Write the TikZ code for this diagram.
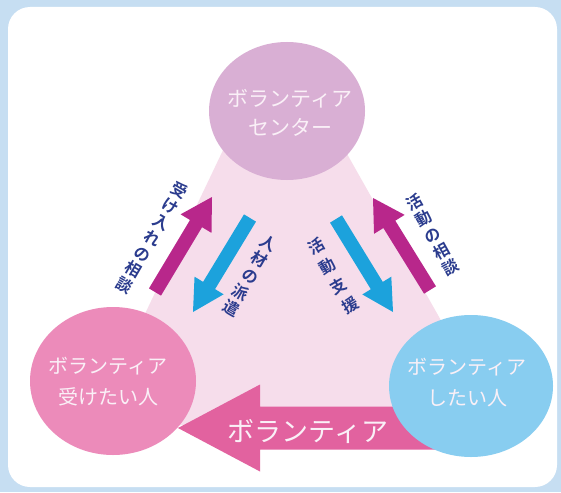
\documentclass[tikz,border=0pt]{standalone}
\usepackage{fontspec}
\setmainfont{Noto Sans CJK JP}[BoldFont={Noto Sans CJK JP Bold}]
\usetikzlibrary{calc}
\definecolor{bgblue}{HTML}{C6DEF2}
\definecolor{tripink}{HTML}{F6DDEB}
\definecolor{topcirc}{HTML}{D9AFD4}
\definecolor{leftcirc}{HTML}{EC8BBA}
\definecolor{rightcirc}{HTML}{88CDF0}
\definecolor{bigarrow}{HTML}{E2629F}
\definecolor{magarrow}{HTML}{B8278B}
\definecolor{bluearrow}{HTML}{1CA2DC}
\definecolor{labelnavy}{HTML}{2B3C8E}
\definecolor{circtext}{HTML}{FAF0F7}
% #1 style, #2 tail, #3 tip, #4 shaft half width, #5 head length, #6 head half width
\newcommand\fatarw[6]{%
  \coordinate (#2#3b) at ($(#3)!#5!(#2)$);
  \fill[#1] ($(#2)!#4!90:(#3)$) -- ($(#2#3b)!#4!90:(#3)$) -- ($(#2#3b)!#6!90:(#3)$) -- (#3)
    -- ($(#2#3b)!#6!-90:(#3)$) -- ($(#2#3b)!#4!-90:(#3)$) -- ($(#2)!#4!-90:(#3)$) -- cycle;}
\begin{document}
\begin{tikzpicture}[x=1pt,y=-1pt,
  circtxt/.style={text=circtext, align=center},
  lbl/.style={text=labelnavy, align=center, inner sep=0pt}]
\useasboundingbox (0,0) rectangle (561,492);
\fill[bgblue] (0,0) rectangle (561,492);
\fill[white, rounded corners=22pt] (8,7) rectangle (557,487);
% pink triangle
\fill[tripink] (266,60) -- (294,60) -- (500,425) -- (92,425) -- cycle;
% big arrow
\coordinate (bigtail) at (445,428);
\coordinate (bigtip) at (178,428);
\fatarw{bigarrow}{bigtail}{bigtip}{21.5pt}{82pt}{43.5pt}
\node[text=circtext, font=\fontsize{27}{30}\selectfont] (bigtxt) at (308,431) {ボランティア};
% circles
\fill[topcirc] (287,111) ellipse [x radius=78, y radius=69];
\fill[leftcirc] (113,381) ellipse [x radius=83, y radius=74];
\fill[rightcirc] (471,386) ellipse [x radius=82, y radius=71];
\node[circtxt, font=\fontsize{21}{29}\selectfont] (center) at (290,113) {ボランティア\\センター};
\node[circtxt, font=\fontsize{20}{31}\selectfont] (receiver) at (108,382) {ボランティア\\受けたい人};
\node[circtxt, font=\fontsize{20}{31}\selectfont] (volunteer) at (467,383) {ボランティア\\したい人};
% small arrows
\coordinate (lmt) at (155,292); \coordinate (lmp) at (212,197);
\coordinate (lbt) at (250,218); \coordinate (lbp) at (193,312);
\coordinate (rbt) at (336,219); \coordinate (rbp) at (393,312);
\coordinate (rmt) at (430,290); \coordinate (rmp) at (373,198);
\fatarw{magarrow}{lmt}{lmp}{7pt}{31pt}{18pt}
\fatarw{bluearrow}{lbt}{lbp}{7pt}{31pt}{17pt}
\fatarw{bluearrow}{rbt}{rbp}{7pt}{31pt}{17pt}
\fatarw{magarrow}{rmt}{rmp}{7pt}{31pt}{18pt}
% labels
\node[lbl, rotate=-30, font=\bfseries\fontsize{16}{18.3}\selectfont] (l1) at (152,238) {受\\け\\入\\れ\\の\\相\\談};
\node[lbl, rotate=-30, font=\bfseries\fontsize{16}{18.7}\selectfont] (l2) at (250,276) {人\\材\\の\\派\\遣};
\node[lbl, rotate=30, font=\bfseries\fontsize{16}{22.6}\selectfont] (l3) at (333,276) {活\\動\\支\\援};
\node[lbl, rotate=29, font=\bfseries\fontsize{16}{18.6}\selectfont] (l4) at (433,235) {活\\動\\の\\相\\談};
\end{tikzpicture}
\end{document}
